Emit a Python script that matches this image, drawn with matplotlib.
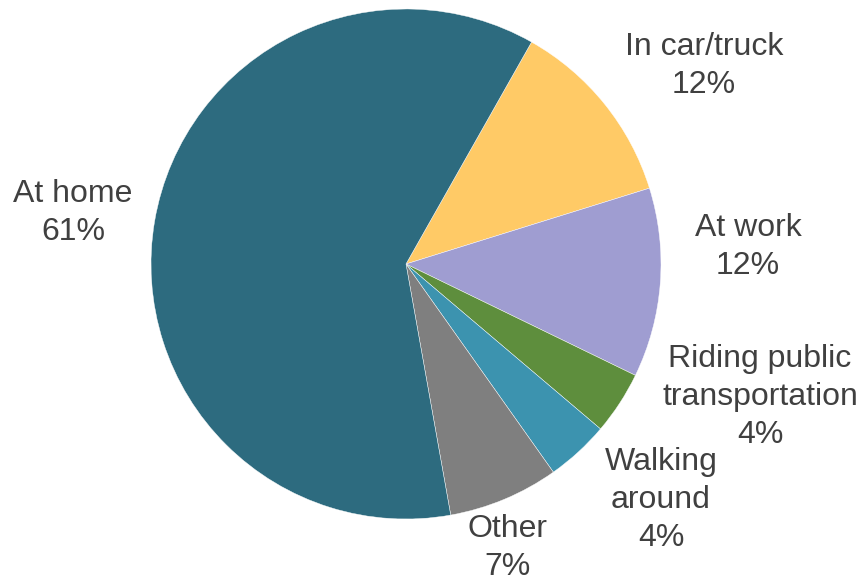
import numpy as np
import matplotlib.pyplot as plt

plt.rcParams['font.family'] = ['Liberation Sans', 'DejaVu Sans']

# Where people are, clockwise from the top-right wedge
labels = ['In car/truck', 'At work', 'Riding public\ntransportation',
          'Walking\naround', 'Other', 'At home']
shares = [12, 12, 4, 4, 7, 61]
colors = ['#FFCA66', '#9F9DD1', '#5E8E3D', '#3C93AF', '#7F7F7F', '#2D6B7F']

# label centres in pixels (figure is 862x580, pie centre at 406,264, radius 255)
label_px = [(704, 66), (748, 247), (760, 397), (661, 500), (508, 548), (73, 213)]
cx, cy, r = 406, 264, 255
W, H = 862, 580

fig = plt.figure(figsize=(W / 100, H / 100), dpi=100)
ax = fig.add_axes([0, 0, 1, 1])
ax.pie(shares, colors=colors, startangle=60.5, counterclock=False,
       wedgeprops=dict(edgecolor='white', linewidth=0.3))
ax.set_aspect('auto')
ax.set_xlim(-cx / r, (W - cx) / r)
ax.set_ylim(-(H - cy) / r, cy / r)
ax.axis('off')

for lab, val, (px, py) in zip(labels, shares, label_px):
    ax.text((px - cx) / r, (cy - py) / r, f'{lab}\n{val}%', ha='center', va='center',
            multialignment='center', fontsize=23, color='#404040', linespacing=1.35)

fig.savefig('out.png', dpi=100)
